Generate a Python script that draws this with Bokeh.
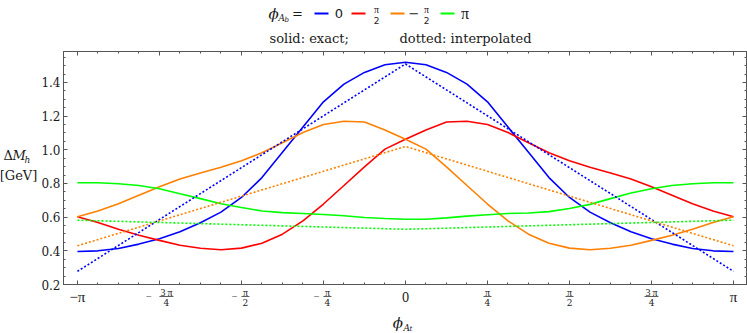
import math
from bokeh.plotting import figure
from bokeh.layouts import column, row
from bokeh.models import Range1d, FixedTicker, LinearAxis, CustomJSTickFormatter
from bokeh.core.properties import value
from bokeh.embed import file_html
from bokeh.resources import INLINE

PI = math.pi

# ---------------- data ----------------
# phi_At grid in units of pi (steps of pi/16)
phi_At_over_pi = [-1.0, -0.9375, -0.875, -0.8125, -0.75, -0.6875, -0.625, -0.5625,
                  -0.5, -0.4375, -0.375, -0.3125, -0.25, -0.1875, -0.125, -0.0625,
                  0.0, 0.0625, 0.125, 0.1875, 0.25, 0.3125, 0.375, 0.4375,
                  0.5, 0.5625, 0.625, 0.6875, 0.75, 0.8125, 0.875, 0.9375, 1.0]

# exact results (solid)
dM_exact_0 = [0.396, 0.400, 0.414, 0.440, 0.472, 0.513, 0.567, 0.630,
              0.717, 0.835, 0.985, 1.135, 1.285, 1.390, 1.460, 1.505,
              1.520, 1.505, 1.460, 1.390, 1.285, 1.135, 0.985, 0.835,
              0.717, 0.630, 0.567, 0.513, 0.472, 0.440, 0.414, 0.400, 0.396]
dM_exact_pi2 = [0.602, 0.568, 0.528, 0.492, 0.462, 0.433, 0.415, 0.406,
                0.416, 0.445, 0.499, 0.578, 0.678, 0.788, 0.899, 1.004,
                1.063, 1.118, 1.165, 1.170, 1.150, 1.103, 1.042, 0.983,
                0.935, 0.896, 0.862, 0.827, 0.780, 0.730, 0.680, 0.636, 0.602]
dM_exact_mpi2 = [0.602, 0.636, 0.680, 0.730, 0.780, 0.827, 0.862, 0.896,
                 0.935, 0.983, 1.042, 1.103, 1.150, 1.170, 1.165, 1.118,
                 1.063, 1.004, 0.899, 0.788, 0.678, 0.578, 0.499, 0.445,
                 0.416, 0.406, 0.415, 0.433, 0.462, 0.492, 0.528, 0.568, 0.602]
dM_exact_pi = [0.804, 0.804, 0.798, 0.788, 0.769, 0.739, 0.710, 0.680,
               0.657, 0.637, 0.627, 0.622, 0.616, 0.608, 0.598, 0.592,
               0.588, 0.588, 0.596, 0.606, 0.614, 0.622, 0.625, 0.633,
               0.651, 0.676, 0.710, 0.743, 0.769, 0.788, 0.798, 0.804, 0.804]

# interpolated results (dotted)
phi_interp_over_pi = [-1.0, 0.0, 1.0]
dM_interp_0 = [0.278, 1.510, 0.278]
dM_interp_pm_pi2 = [0.430, 1.020, 0.430]
dM_interp_pi = [0.582, 0.528, 0.582]

series_colors = ["#0000ff", "#ff0000", "#ff8000", "#00ff00"]

# x tick labels (sign, numerator, denominator) at multiples of pi/4
x_tick_over_pi = [-1.0, -0.75, -0.5, -0.25, 0.0, 0.25, 0.5, 0.75, 1.0]
x_tick_sign = ["\u2212", "\u2212", "\u2212", "\u2212", "", "", "", "", ""]
x_tick_num = ["\u03c0", "3\u2009\u03c0", "\u03c0", "\u03c0", "0", "\u03c0", "\u03c0", "3\u2009\u03c0", "\u03c0"]
x_tick_den = ["", "4", "2", "4", "", "4", "2", "4", ""]
y_major_ticks = [0.2, 0.4, 0.6, 0.8, 1.0, 1.2, 1.4]
y_tick_labels = ["0.2", "0.4", "0.6", "0.8", "1.0", "1.2", "1.4"]
y_minor_ticks = [round(0.2 + 0.05 * i, 2) for i in range(28)]

phi_At = [v * PI for v in phi_At_over_pi]
phi_interp = [v * PI for v in phi_interp_over_pi]
x_major = [v * PI for v in x_tick_over_pi]
x_minor = [k * PI / 16 for k in range(-16, 17)]

# ---------------- geometry (page pixels) ----------------
W, H = 747, 333
FL, FR, FT, FB = 63, 746, 51, 284      # plot frame edges
X0, X1 = -3.275, 3.266
Y0, Y1 = 0.2, 1.584
PPX = (FR - FL) / (X1 - X0)
PPY = (FB - FT) / (Y1 - Y0)


def dy(py):
    return Y0 + (FB - py) / PPY


SERIF = "DejaVu Serif"
SANS = "DejaVu Sans"
TIMES = "Liberation Serif"
FRAME = "#555555"
TXT = "#1a1a1a"

x_range = Range1d(X0, X1)
y_range = Range1d(Y0, Y1)


def blank(width, height, xr, yr, bl=0, br=0):
    f = figure(width=width, height=height, x_range=xr, y_range=yr,
               output_backend="svg", toolbar_location=None,
               x_axis_location=None, y_axis_location=None,
               min_border_left=bl, min_border_right=br,
               min_border_top=0, min_border_bottom=0)
    f.grid.visible = False
    f.outline_line_color = None
    f.background_fill_color = "white"
    f.border_fill_color = "white"
    return f


def txt(f, x, y, t, size, font=SERIF, style="normal", align="center", color=TXT):
    f.text(x=[x], y=[y], text=[t], text_font=value(font), text_font_size=value(size),
           text_font_style=style, text_align=align, text_baseline="middle",
           text_color=color)


# ---------------- main plot ----------------
p = figure(frame_width=FR - FL, frame_height=FB - FT,
           x_range=x_range, y_range=y_range,
           output_backend="svg", toolbar_location=None,
           min_border_left=1, min_border_right=W - FR,
           min_border_top=1, min_border_bottom=1)
p.grid.visible = False
p.outline_line_color = FRAME
p.background_fill_color = "white"
p.border_fill_color = "white"


def style_axis(ax, ticks, minor):
    ax.ticker = FixedTicker(ticks=ticks, minor_ticks=minor)
    ax.axis_line_color = FRAME
    ax.major_tick_line_color = FRAME
    ax.minor_tick_line_color = FRAME
    ax.major_tick_in = 4
    ax.major_tick_out = 0
    ax.minor_tick_in = 2
    ax.minor_tick_out = 0
    ax.formatter = CustomJSTickFormatter(code="return ''")
    ax.major_label_text_font_size = "0px"
    ax.major_label_standoff = 0


style_axis(p.xaxis[0], x_major, x_minor)
style_axis(p.yaxis[0], y_major_ticks, y_minor_ticks)
top_ax = LinearAxis()
style_axis(top_ax, x_major, x_minor)
p.add_layout(top_ax, "above")
right_ax = LinearAxis()
style_axis(right_ax, y_major_ticks, y_minor_ticks)
p.add_layout(right_ax, "right")

solid = [dM_exact_0, dM_exact_pi2, dM_exact_mpi2, dM_exact_pi]
for ys, c in zip(solid, series_colors):
    p.line(phi_At, ys, line_color=c, line_width=1.6)

dotted = [(dM_interp_0, series_colors[0]), (dM_interp_pm_pi2, series_colors[2]),
          (dM_interp_pi, series_colors[3])]
for ys, c in dotted:
    p.line(phi_interp, ys, line_color=c, line_width=1.6, line_dash="2 2")

# ---------------- header (legend) ----------------
hdr = blank(W, FT - 1, Range1d(0, W), Range1d(FT - 1, 0))
txt(hdr, 273, 13, "\u03d5", "15px", style="italic")
txt(hdr, 278, 17, "A", "9px", style="italic", align="left")
txt(hdr, 284, 19, "b", "7px", style="italic", align="left")
txt(hdr, 297, 13, "=", "13px", font=SANS)
leg_x0 = [314, 351, 390, 440]
leg_x1 = [328, 365, 404, 454]
hdr.segment(x0=leg_x0, y0=[13] * 4, x1=leg_x1, y1=[13] * 4,
            line_color=series_colors, line_width=2)
txt(hdr, 338.5, 13, "0", "13px", font=SANS)
txt(hdr, 376, 8.5, "\u03c0", "10px", font=TIMES)
txt(hdr, 376, 19.5, "2", "9px", font=SANS)
txt(hdr, 413.5, 13, "\u2212", "13px", font=SANS)
txt(hdr, 426, 8.5, "\u03c0", "10px", font=TIMES)
txt(hdr, 426, 19.5, "2", "9px", font=SANS)
txt(hdr, 464.5, 13, "\u03c0", "16px", font=TIMES)
txt(hdr, 269, 38, "solid: exact;", "13px", align="left")
txt(hdr, 399, 38, "dotted: interpolated", "13px", align="left")

# ---------------- left strip: y tick labels (same y scale) + y title ----------------
LW = FL - 1
left = blank(LW, H - FT + 1, Range1d(0, LW), Range1d(dy(H), dy(FT - 1)))
left.text(x=[LW - 2] * len(y_major_ticks), y=y_major_ticks, text=y_tick_labels,
          text_font=value(SERIF), text_font_size=value("12px"), text_align="right",
          text_baseline="middle", text_color=TXT)
txt(left, 3, dy(155), "\u0394", "13px", align="left")
txt(left, 12, dy(155), "M", "13px", style="italic", align="left")
txt(left, 24, dy(159), "h", "9px", style="italic", align="left")
txt(left, 18, dy(175), "[GeV]", "13px")

# ---------------- bottom strip (x tick labels + title, same x scale) ----------------
bot = figure(frame_width=FR - FL, height=H - FB - 1, x_range=x_range,
             y_range=Range1d(H, FB + 1), output_backend="svg", toolbar_location=None,
             x_axis_location=None, y_axis_location=None,
             min_border_left=1, min_border_right=W - FR,
             min_border_top=0, min_border_bottom=0)
bot.grid.visible = False
bot.outline_line_color = None
bot.border_fill_color = "white"
bot.background_fill_color = "white"

for v, s, n, d in zip(x_major, x_tick_sign, x_tick_num, x_tick_den):
    if d == "":
        if n == "0":
            txt(bot, v, 296.5, n, "12px")
        else:
            txt(bot, v, 296.5, s + n, "15px", font=TIMES)
    else:
        wide = len(n) > 1
        fw = 14 if wide else 8
        fc = v
        if s:
            fc = v + (7 if wide else 4) / PPX
            txt(bot, v - (10.5 if wide else 7) / PPX, 296, s, "10px", font=TIMES)
        txt(bot, fc, 291.5, n, "10px", font=TIMES)
        bot.segment(x0=[fc - fw / 2 / PPX], y0=[296], x1=[fc + fw / 2 / PPX], y1=[296],
                    line_color=TXT, line_width=0.7)
        txt(bot, fc, 302, d, "9px")

txt(bot, 0.0 - 7.5 / PPX, 322, "\u03d5", "15px", style="italic")
txt(bot, 0.0 - 2 / PPX, 327, "A", "9px", style="italic", align="left")
txt(bot, 0.0 + 4 / PPX, 328.5, "t", "7px", style="italic", align="left")

layout = column(hdr, row(left, column(p, bot)))
open("out.html", "w").write(file_html(layout, INLINE))
